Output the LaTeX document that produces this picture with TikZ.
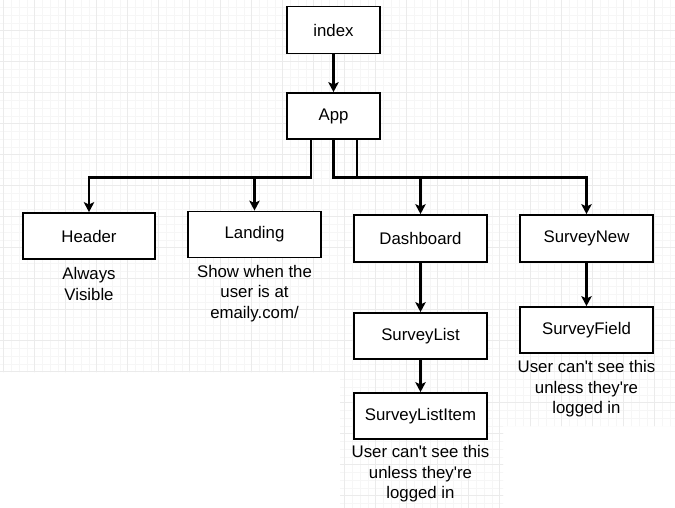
\documentclass[tikz,border=0pt]{standalone}
\usepackage{fontspec}
\setmainfont[Ligatures=TeXOff]{Liberation Sans}
\usetikzlibrary{arrows.meta,positioning}
\newcommand\diafont{\fontsize{16.8}{20.5}\selectfont}
\definecolor{gridmajor}{HTML}{EBEBEB}
\definecolor{gridminor}{HTML}{F6F6F6}
\begin{document}
\begin{tikzpicture}[x=1pt,y=-1pt,
  box/.style={draw=black,line width=1.8pt,fill=white,minimum width=133pt,
    minimum height=46pt,inner sep=0pt,font=\diafont},
  note/.style={align=center,inner sep=0pt,font=\diafont},
  link/.style={line width=2.7pt,-{Stealth[length=10pt,width=10.5pt,inset=2.5pt]}},
  minorline/.style={draw=gridminor,line width=0.6pt},
  majorline/.style={draw=gridmajor,line width=0.9pt}]

\useasboundingbox (0,0) rectangle (675,508);
\fill[white] (0,0) rectangle (675,508);

% background grid
\begin{scope}
  \clip (0,0) -- (675,0) -- (675,426) -- (503,426) -- (503,508)
        -- (340,508) -- (340,372) -- (0,372) -- cycle;
  \foreach \i in {0,...,87} \draw[minorline] (3.7+7.75*\i,0) -- ++(0,508);
  \foreach \i in {0,...,66} \draw[minorline] (0,-0.3+7.75*\i) -- ++(675,0);
  \foreach \i in {0,...,21} \draw[majorline] (3.7+31*\i,0) -- ++(0,508);
  \foreach \i in {0,...,17} \draw[majorline] (0,-0.3+31*\i) -- ++(675,0);
\end{scope}

% components
\node[box,minimum width=93pt,minimum height=47pt] (index) at (333.5,30) {index};
\node[box,minimum width=93pt] (app) at (333.5,116) {App};
\node[box,minimum width=132pt] (header) at (89,236) {Header};
\node[box] (landing) at (254.5,234.5) {Landing};
\node[box,minimum height=47pt] (dash) at (420.5,238.5) {Dashboard};
\node[box,minimum height=47pt] (new) at (586.5,238.5) {SurveyNew};
\node[box] (list) at (420.5,336) {SurveyList};
\node[box] (item) at (420.5,416) {SurveyListItem};
\node[box] (field) at (586.5,330) {SurveyField};

% notes
\node[note,below=7.5pt of header] (headernote) {Always\\Visible};
\node[note,below=6.5pt of landing] (landingnote) {Show when the\\user is at\\emaily.com/};
\node[note,below=5.5pt of item] (itemnote) {User can't see this\\unless they're\\logged in};
\node[note,below=6.5pt of field] (fieldnote) {User can't see this\\unless they're\\logged in};

% connectors
\coordinate (bar) at (0,177.5);
\coordinate (o1) at ([xshift=-22.5pt]app.south);
\coordinate (o2) at (app.south);
\coordinate (o3) at ([xshift=23.5pt]app.south);

\draw[link] (index) -- (app);
\draw[link] (o1) -- (o1 |- bar) -| (header.north);
\draw[link] (o1) -- (o1 |- bar) -| (landing.north);
\draw[link] (o2) -- (o2 |- bar) -| (dash.north);
\draw[link] (o3) -- (o3 |- bar) -| (new.north);
\draw[link] (dash) -- (list);
\draw[link] (list) -- (item);
\draw[link] (new) -- (field);
\end{tikzpicture}
\end{document}
